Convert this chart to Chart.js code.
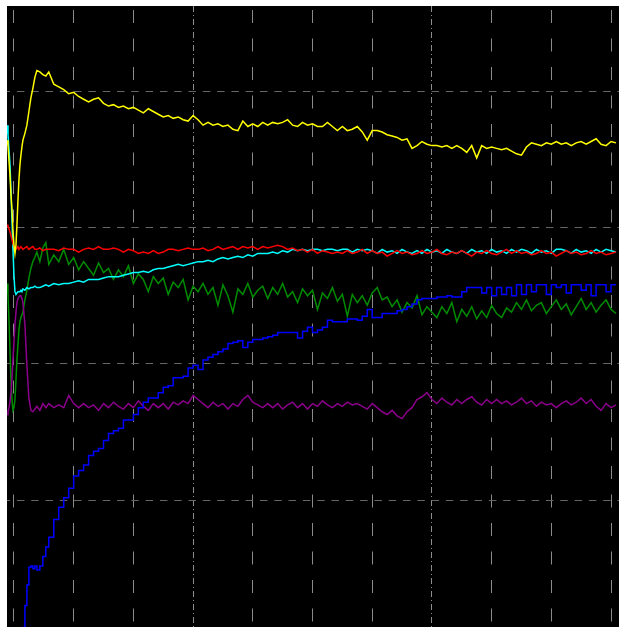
<!DOCTYPE html>
<html>
<head>
<meta charset="utf-8">
<script src="https://cdn.jsdelivr.net/npm/chart.js@4/dist/chart.umd.min.js"></script>
<style>
    html, body { margin: 0; padding: 0; background: #ffffff; }
    canvas { display: block; }
</style>
</head>
<body>
<canvas id="scope" width="619" height="627"></canvas>
<script>
// sample times (ms), dense at the start transient
let times = [-7, -6, -5, -4, -3, -2, -1, 0, 1, 2, 3, 4, 5, 6, 7, 8, 9, 11, 13, 15, 17, 19, 21, 23, 26, 29, 32, 35,
    40, 45, 50, 55, 60, 65, 70, 75, 80, 85, 90, 95, 100, 105, 110, 115, 120, 125, 130, 135, 140, 145, 150, 155, 160, 165,
    170, 175, 180, 185, 190, 195, 200, 205, 210, 215, 220, 225, 230, 235, 240, 245, 250, 255, 260, 265, 270, 275, 280, 285,
    290, 295, 300, 305, 310, 315, 320, 325, 330, 335, 340, 345, 350, 355, 360, 365, 370, 375, 380, 385, 390, 395, 400, 405,
    410, 415, 420, 425, 430, 435, 440, 445, 450, 455, 460, 465, 470, 475, 480, 485, 490, 495, 500, 505, 510, 515, 520, 525,
    530, 535, 540, 545, 550, 555, 560, 565, 570, 575, 580, 585, 590, 595, 600, 605];

let yellowVals = [264, 260, 249, 238, 224, 213, 198, 187, 181, 187, 202, 220, 235, 246, 253, 259, 264, 269, 275, 285, 295, 302, 310, 315, 314, 312, 311, 314,
    305, 303, 301, 298, 299, 296, 294, 292, 294, 295, 291, 289, 290, 288, 289, 287, 288, 286, 284, 287, 285, 283, 281, 282,
    280, 281, 279, 278, 282, 279, 275, 277, 275, 276, 274, 275, 272, 271, 278, 274, 276, 274, 277, 275, 277, 276, 277, 279,
    275, 274, 277, 275, 276, 274, 274, 277, 274, 271, 274, 271, 272, 274, 270, 264, 271, 271, 270, 268, 267, 266, 264, 265,
    258, 260, 263, 261, 260, 260, 259, 260, 258, 260, 258, 255, 260, 251, 260, 258, 259, 258, 257, 258, 256, 254, 253, 259,
    262, 261, 260, 262, 261, 263, 261, 262, 260, 262, 263, 261, 263, 265, 261, 260, 263, 262];

let redVals = [202, 201, 199, 197, 194, 191, 188, 186, 186, 184, 185, 186, 184, 185, 186, 185, 184, 185, 186, 184, 185, 186, 184, 184, 185, 183, 184, 184,
    184, 183, 185, 184, 184, 182, 184, 185, 184, 186, 184, 184, 185, 184, 182, 184, 183, 181, 182, 181, 183, 181, 182, 184,
    184, 183, 184, 185, 184, 184, 185, 183, 184, 186, 184, 185, 186, 184, 186, 185, 186, 184, 186, 185, 186, 187, 186, 184,
    185, 183, 184, 182, 184, 181, 183, 182, 181, 182, 181, 183, 181, 182, 184, 181, 183, 181, 182, 179, 181, 183, 181, 182,
    180, 181, 183, 181, 182, 184, 181, 180, 182, 181, 183, 181, 179, 182, 181, 183, 181, 180, 182, 184, 181, 183, 181, 182,
    180, 181, 183, 181, 182, 179, 181, 183, 181, 182, 180, 181, 183, 181, 182, 180, 181, 182];

let cyanVals = [275, 268, 257, 246, 227, 205, 184, 165, 153, 151, 152, 153, 153, 153, 154, 153, 155, 154, 156, 155, 156, 156, 157, 156, 156, 157, 158, 157,
    159, 158, 159, 159, 160, 161, 160, 162, 162, 162, 163, 164, 164, 164, 165, 166, 167, 167, 168, 167, 169, 170, 170, 171,
    172, 173, 172, 173, 174, 175, 175, 176, 175, 177, 178, 177, 178, 179, 178, 180, 179, 181, 181, 181, 182, 181, 183, 182,
    184, 183, 184, 183, 184, 184, 183, 184, 184, 183, 184, 184, 182, 184, 183, 184, 183, 181, 184, 182, 183, 181, 184, 182,
    181, 183, 181, 184, 182, 183, 181, 184, 182, 181, 183, 181, 184, 182, 183, 181, 184, 182, 183, 181, 184, 182, 184, 183,
    181, 184, 182, 183, 181, 184, 184, 183, 181, 184, 182, 183, 181, 184, 182, 184, 183, 182];

let greenVals = [159, 151, 132, 110, 88, 74, 66, 68, 74, 88, 103, 114, 125, 131, 134, 136, 138, 147, 154, 163, 170, 175, 178, 182, 175, 185, 189, 173,
    180, 175, 184, 173, 178, 169, 175, 170, 165, 174, 167, 170, 162, 169, 164, 172, 159, 166, 162, 153, 164, 159, 163, 151,
    160, 156, 162, 147, 157, 153, 159, 151, 156, 143, 158, 150, 138, 155, 151, 159, 149, 154, 157, 148, 156, 151, 159, 149,
    153, 145, 155, 150, 154, 140, 152, 148, 156, 146, 151, 135, 151, 145, 150, 143, 152, 156, 147, 149, 142, 147, 138, 145,
    141, 150, 136, 142, 138, 134, 142, 137, 145, 131, 140, 135, 142, 133, 139, 134, 143, 137, 134, 141, 138, 145, 140, 147,
    139, 143, 145, 137, 142, 147, 140, 144, 136, 142, 148, 140, 145, 138, 143, 147, 140, 137];

let purpleVals = [63, 65, 68, 72, 79, 90, 103, 116, 129, 138, 145, 148, 149, 150, 150, 148, 145, 129, 99, 75, 66, 65, 67, 69, 66, 71, 68, 71,
    68, 70, 68, 77, 71, 68, 71, 68, 70, 66, 71, 68, 72, 69, 67, 71, 68, 73, 69, 66, 71, 68, 71, 67,
    72, 70, 73, 71, 77, 74, 71, 68, 72, 69, 71, 67, 71, 69, 74, 77, 72, 70, 68, 71, 68, 71, 67, 70,
    72, 68, 71, 67, 71, 69, 73, 70, 68, 71, 69, 72, 70, 71, 69, 67, 71, 68, 65, 63, 66, 62, 60, 65,
    68, 74, 76, 79, 74, 71, 75, 72, 70, 74, 71, 74, 76, 72, 70, 74, 71, 74, 71, 73, 70, 72, 75, 71,
    73, 69, 72, 70, 71, 68, 71, 73, 70, 72, 75, 71, 74, 69, 66, 71, 68, 70];

let blueVals = [null, null, null, null, null, null, null, null, null, null, null, null, null, -115, -107, -100, -93, -77, -62, -49, -48, -50, -48, -51, -48, -41, -34, -27,
    -14, -5, 2, 9, 18, 22, 26, 33, 36, 38, 44, 49, 51, 53, 59, 59, 63, 68, 72, 75, 75, 79,
    83, 84, 90, 90, 91, 97, 99, 96, 103, 105, 107, 109, 111, 115, 116, 117, 112, 116, 118, 118, 119, 120,
    121, 123, 123, 123, 123, 119, 124, 127, 123, 125, 127, 132, 131, 131, 131, 133, 133, 132, 135, 140,
    134, 134, 137, 137, 137, 139, 140, 142, 144, 147, 148, 148, 148, 149, 149, 150, 149, 149, 153, 156,
    156, 156, 152, 156, 150, 156, 151, 156, 150, 158, 151, 158, 153, 158, 158, 151, 158, 156, 158, 152,
    158, 158, 154, 158, 150, 158, 158, 153, 158, 158];

let xTicks = [0, 60, 120, 180, 240, 300, 360, 420, 480, 540, 600];
let yTicks = [0, 100, 200, 300];

function toPoints(vals) {
    if (vals.length !== times.length) {
        console.warn("length mismatch", vals.length, times.length);
    }
    return times.map((t, i) => ({ x: t, y: vals[i] }));
}

function trace(label, vals, color, extra) {
    return Object.assign({
        label: label,
        data: toPoints(vals),
        borderColor: color,
        borderWidth: 1.5,
        pointRadius: 0,
        tension: 0,
        fill: false
    }, extra || {});
}

// black screen behind the plot
const screenBg = {
    id: "screenBg",
    beforeDraw: function (chart) {
        let a = chart.chartArea;
        let ctx = chart.ctx;
        ctx.save();
        ctx.fillStyle = "#000000";
        ctx.fillRect(a.left, a.top, a.right - a.left, a.bottom - a.top);
        ctx.restore();
    }
};

// dash-dot on two of the vertical divisions
let isMarker = (c) => c.tick && (c.tick.value === 180 || c.tick.value === 420);

new Chart(document.getElementById("scope"), {
    type: "line",
    data: {
        datasets: [
            trace("ch1", yellowVals, "#ffff00"),
            trace("ch2", redVals, "#ff0000"),
            trace("ch3", cyanVals, "#00ffff"),
            trace("ch4", blueVals, "#0000ff", { stepped: true }),
            trace("ch5", purpleVals, "#8b008b"),
            trace("ch6", greenVals, "#008c00")
        ]
    },
    options: {
        responsive: false,
        animation: false,
        devicePixelRatio: 1,
        layout: { padding: { left: 7, top: 6, right: 0, bottom: 0 } },
        plugins: {
            legend: { display: false },
            tooltip: { enabled: false }
        },
        scales: {
            x: {
                type: "linear",
                min: -7,
                max: 608,
                afterBuildTicks: (scale) => { scale.ticks = xTicks.map(v => ({ value: v })); },
                ticks: { display: false },
                grid: {
                    drawTicks: false,
                    lineWidth: 1,
                    color: (c) => isMarker(c) ? "#8c8c8c" : "#8a8a8a"
                },
                border: {
                    display: false,
                    dash: (c) => isMarker(c) ? [6, 3, 1, 3] : [13, 15.5],
                    dashOffset: (c) => isMarker(c) ? 0 : 24.5
                }
            },
            y: {
                type: "linear",
                min: -92.7,
                max: 362.3,
                afterBuildTicks: (scale) => { scale.ticks = yTicks.map(v => ({ value: v })); },
                ticks: { display: false },
                grid: { drawTicks: false, lineWidth: 1, color: "#666666" },
                border: { display: false, dash: [7.5, 6.8], dashOffset: 4.4 }
            }
        }
    },
    plugins: [screenBg]
});
</script>
</body>
</html>
